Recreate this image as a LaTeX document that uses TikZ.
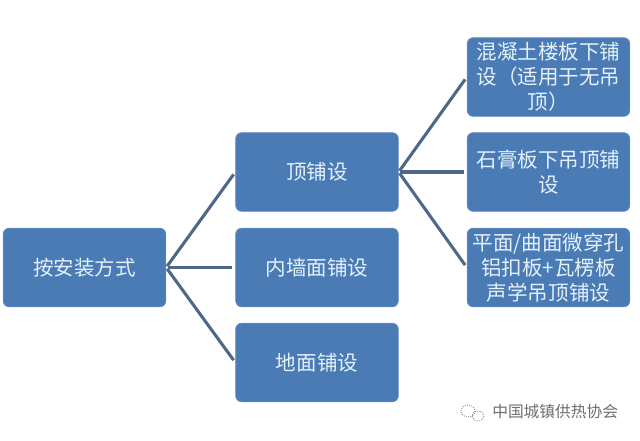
\documentclass[tikz,border=0pt]{standalone}
\usepackage{fontspec}
\setmainfont{Noto Sans CJK SC}[Scale=1]
\definecolor{boxfill}{HTML}{4A7BB5}
\definecolor{boxtext}{HTML}{E4F1FA}
\definecolor{linkcol}{HTML}{4F6889}
\definecolor{markcol}{HTML}{6E6E6E}
\tikzset{
  x=0.75pt,y=-0.75pt,
  boxnode/.style={draw=boxfill!85!white,line width=0.5pt,fill=boxfill,rounded corners=4.5pt,text=boxtext,
    inner sep=0pt,align=center,font=\fontsize{15.4pt}{18.9pt}\selectfont,minimum height=59pt},
  smallbox/.style={boxnode,minimum width=122pt},
  rootbox/.style={boxnode,minimum width=122pt},
  link/.style={draw=linkcol,line width=2.3pt,shorten >=2.2pt,shorten <=1.2pt},
  marktext/.style={text=markcol,inner sep=0pt,font=\fontsize{11.8pt}{14pt}\selectfont},
  markicon/.style={draw=markcol!80!white,line width=0.7pt,densely dotted}
}
\begin{document}
\begin{tikzpicture}
\useasboundingbox (0,0) rectangle (640,440);
\node[rootbox] (root) at (84.5,267.5) {按安装方式};
\node[smallbox] (top) at (317,172) {顶铺设};
\node[smallbox] (wall) at (317,267.5) {内墙面铺设};
\node[smallbox] (floor) at (317,362.5) {地面铺设};
\node[smallbox] (a) at (548.5,77) {混凝土楼板下铺\\设（适用于无吊\\顶）};
\node[smallbox] (b) at (548.5,172) {石膏板下吊顶铺\\设};
\node[smallbox] (c) at (548.5,267.5) {平面/曲面微穿孔\\铝扣板+瓦楞板\\声学吊顶铺设};
\draw[link] (root.east) -- (top.west);
\draw[link] (root.east) -- (wall.west);
\draw[link] (root.east) -- (floor.west);
\draw[link] (top.east) -- (a.west);
\draw[link] (top.east) -- (b.west);
\draw[link] (top.east) -- (c.west);
\draw[markicon] (468,411) ellipse (7 and 6);
\draw[markicon] (478,416) ellipse (6 and 5);
\node[marktext,anchor=west] (mark) at (492,412) {中国城镇供热协会};
\end{tikzpicture}
\end{document}
